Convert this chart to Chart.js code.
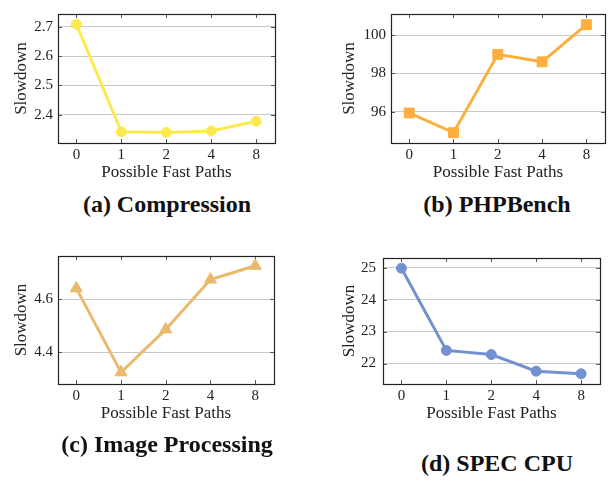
<!DOCTYPE html>
<html>
<head>
<meta charset="utf-8">
<script src="https://cdn.jsdelivr.net/npm/chart.js@4"></script>
<style>
  body { margin: 0; background: #fff; width: 616px; height: 481px; position: relative; overflow: hidden; }
  canvas { position: absolute; }
  .cap { position: absolute; font-family: "Liberation Serif", serif; font-weight: bold; font-size: 24px;
         color: #111; transform: translate(-50%, -50%); white-space: nowrap; }
</style>
</head>
<body>
<canvas id="chartA"></canvas>
<canvas id="chartB"></canvas>
<canvas id="chartC"></canvas>
<canvas id="chartD"></canvas>
<div class="cap" style="left:167px; top:204px;">(a) Compression</div>
<div class="cap" style="left:497px; top:204px;">(b) PHPBench</div>
<div class="cap" style="left:167px; top:444px;">(c) Image Processing</div>
<div class="cap" style="left:497px; top:463px;">(d) SPEC CPU</div>
<script>
// x categories shared by all four plots
var xLabels = ['0', '1', '2', '4', '8'];

// slowdown values
var compression = [2.708, 2.342, 2.340, 2.345, 2.378];
var phpBench = [95.93, 94.90, 98.99, 98.60, 100.54];
var imageProcessing = [4.642, 4.325, 4.487, 4.675, 4.727];
var specCpu = [24.98, 22.41, 22.28, 21.76, 21.68];

// y tick labels
var compressionTicks = [2.4, 2.5, 2.6, 2.7];
var phpBenchTicks = [96, 98, 100];
var imageTicks = [4.4, 4.6];
var specTicks = [22, 23, 24, 25];

var serif = '"Liberation Serif", "DejaVu Serif", serif';
var Y_AXIS_W = 58, X_AXIS_H = 47, PAD_TOP = 10, PAD_RIGHT = 4;

// pgfplots-like frame with inward tick marks
var framePlugin = {
    id: 'frame',
    beforeDatasetsDraw: function(chart) {
        var ctx = chart.ctx, a = chart.chartArea;
        var xs = chart.scales.x, ys = chart.scales.y;
        ctx.save();
        ctx.strokeStyle = '#555';
        ctx.lineWidth = 1;
        ctx.beginPath();
        ys.ticks.forEach(function(t) {
            var y = Math.round(ys.getPixelForValue(t.value)) + 0.5;
            ctx.moveTo(a.left, y); ctx.lineTo(a.left + 4, y);
            ctx.moveTo(a.right - 4, y); ctx.lineTo(a.right, y);
        });
        xs.ticks.forEach(function(t) {
            var x = Math.round(xs.getPixelForValue(t.value)) + 0.5;
            ctx.moveTo(x, a.bottom); ctx.lineTo(x, a.bottom - 4);
            ctx.moveTo(x, a.top); ctx.lineTo(x, a.top + 4);
        });
        ctx.stroke();
        ctx.strokeStyle = '#222';
        ctx.lineWidth = 1.2;
        ctx.strokeRect(Math.round(a.left) + 0.5, Math.round(a.top) + 0.5,
            Math.round(a.right - a.left), Math.round(a.bottom - a.top));
        ctx.restore();
    }
};

function makePanel(id, areaLeft, areaTop, areaW, areaH, values, yTicks, yMin, yMax, decimals,
                   color, pointStyle, radius, titleOffset, tickPad) {
    var canvas = document.getElementById(id);
    var w = Y_AXIS_W + areaW + PAD_RIGHT;
    var h = PAD_TOP + areaH + X_AXIS_H;
    canvas.width = w; canvas.height = h;
    canvas.style.width = w + 'px'; canvas.style.height = h + 'px';
    canvas.style.left = (areaLeft - Y_AXIS_W) + 'px';
    canvas.style.top = (areaTop - PAD_TOP) + 'px';

    var points = values.map(function(v, i) { return { x: i, y: v }; });

    return new Chart(canvas.getContext('2d'), {
        type: 'line',
        data: {
            datasets: [{
                data: points,
                borderColor: color,
                backgroundColor: color,
                pointBackgroundColor: color,
                pointBorderColor: color,
                borderWidth: 3,
                pointBorderWidth: 1,
                pointStyle: pointStyle,
                pointRadius: radius,
                pointHoverRadius: radius,
                tension: 0,
                clip: false
            }]
        },
        options: {
            responsive: false,
            animation: false,
            devicePixelRatio: 1,
            layout: { padding: { top: PAD_TOP, right: PAD_RIGHT, left: 0, bottom: 0 } },
            plugins: { legend: { display: false }, tooltip: { enabled: false } },
            scales: {
                x: {
                    type: 'linear',
                    min: -0.41,
                    max: xLabels.length - 1 + 0.42,
                    afterBuildTicks: function(scale) {
                        scale.ticks = xLabels.map(function(_, i) { return { value: i }; });
                    },
                    afterFit: function(scale) { scale.height = X_AXIS_H; },
                    grid: { display: false, drawTicks: false },
                    border: { display: false },
                    ticks: {
                        padding: 3,
                        color: '#222',
                        font: { family: serif, size: 15 },
                        callback: function(v) { return xLabels[v]; }
                    },
                    title: {
                        display: true,
                        text: 'Possible Fast Paths',
                        color: '#222',
                        font: { family: serif, size: 17 },
                        padding: { top: 0, bottom: 7 }
                    }
                },
                y: {
                    min: yMin,
                    max: yMax,
                    afterBuildTicks: function(scale) {
                        scale.ticks = yTicks.map(function(v) { return { value: v }; });
                    },
                    afterFit: function(scale) { scale.width = Y_AXIS_W; },
                    grid: { color: '#c8c8c8', lineWidth: 1, drawTicks: false },
                    border: { display: false },
                    ticks: {
                        padding: tickPad,
                        color: '#222',
                        font: { family: serif, size: 15 },
                        callback: function(v) { return v.toFixed(decimals); }
                    },
                    title: {
                        display: true,
                        text: 'Slowdown',
                        color: '#222',
                        font: { family: serif, size: 17 },
                        padding: { top: Y_AXIS_W - titleOffset - 10.2, bottom: 0 }
                    }
                }
            }
        },
        plugins: [framePlugin]
    });
}

makePanel('chartA', 58, 10, 219, 133, compression, compressionTicks, 2.304, 2.743, 1,
          '#fce94f', 'circle', 5, 36, 5);
makePanel('chartB', 391, 10, 218, 133, phpBench, phpBenchTicks, 94.36, 101.10, 0,
          '#fcaf3e', 'rect', 7, 41, 5);
makePanel('chartC', 58, 252, 220, 132, imageProcessing, imageTicks, 4.281, 4.764, 1,
          '#e9b96e', 'triangle', 7, 36, 5);
makePanel('chartD', 383, 252, 219, 132, specCpu, specTicks, 21.36, 25.30, 0,
          '#7291d0', 'circle', 5, 33, 7);
</script>
</body>
</html>
